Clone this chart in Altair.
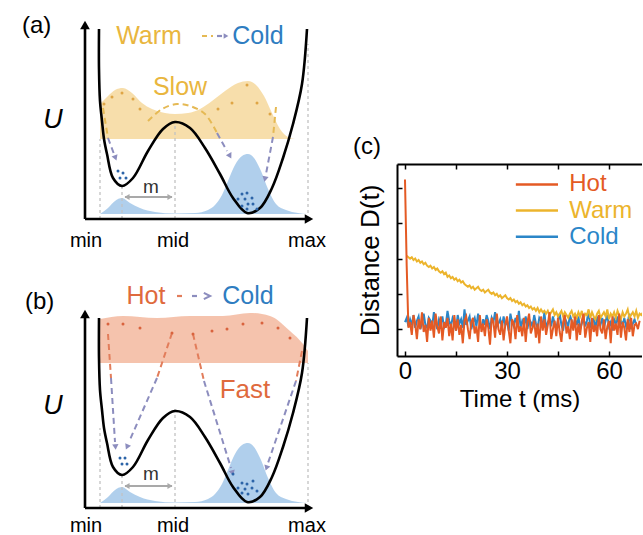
import altair as alt
import pandas as pd

FONT = "Liberation Sans"
NARROW_FONT = "Liberation Sans Narrow, Liberation Sans"

# ---------------- colours ----------------
YELLOW = "#E9B63E"
BLUE = "#2E7DC1"
ORANGE = "#DF6A3D"
YELLOW_FILL = "#F6DAA2"
SALMON_FILL = "#F4BCA4"
BLUE_FILL = "#A7CAEA"
DASH_WARM = "#E5B954"
DASH_HOT = "#E27D5B"
DASH_COOL = "#8C8DBE"
DOT_YELLOW = "#DFA545"
DOT_ORANGE = "#D9633E"
DOT_BLUE = "#2C64A8"
GUIDE = "#C2C2C2"
M_GRAY = "#A9A9A9"
HOT_C = "#E45A24"
WARM_C = "#ECB42C"
COLD_C = "#2B86C8"

# ---------------- schematic data (arbitrary drawing units) ----------------
POT_X = [-1, -1, 0, 2, 4, 7, 13, 22, 33, 48, 63, 75, 90, 105, 120, 133, 147, 160, 172, 183, 193, 202, 207]
POT_U = [190, 150, 118, 98, 80, 65, 41, 33, 41, 68, 90, 97, 91, 71, 45, 21, 6, 11, 31, 61, 95, 135, 190]

BLUE_X = [0, 8, 15, 22, 30, 40, 55, 75, 95, 108, 115, 122, 128, 135, 142, 148, 154, 161, 168, 176, 186, 198, 208]
BLUE_U = [5, 11, 18, 21, 16, 11, 7, 5.5, 6, 9, 14, 24, 38, 54, 63, 65, 61, 48, 30, 15, 9, 6, 5]
BLUE_BASE = 5

WARM_X = [0, 8, 15, 23, 32, 42, 52, 65, 75, 88, 100, 112, 125, 138, 148, 156, 164, 172, 180, 188, 195, 208]
WARM_U = [115, 123, 129, 131, 126, 116, 110, 106, 105, 106, 110, 118, 128, 136, 138, 134, 123, 106, 90, 82, 80, 80]
WARM_BASE = 80

HOT_X = [0, 23, 57, 90, 123, 150, 170, 190, 203, 208]
HOT_U = [189, 192, 190, 192, 192, 195, 192, 177, 164, 157]
HOT_BASE = 145

A_YDOT_X = [4, 12, 22, 33, 40, 118, 132, 147, 157, 170]
A_YDOT_U = [115, 122, 126, 120, 110, 110, 116, 134, 116, 105]
A_BDOT_X = [18, 23, 20, 26, 142, 147, 138, 145, 152, 148, 142, 153, 157, 147]
A_BDOT_U = [48, 46, 41, 41, 25, 26, 20, 20, 21, 15, 13, 15, 10, 10]
B_ODOT_X = [8, 23, 40, 72, 93, 112, 127, 143, 162, 178, 190]
B_ODOT_U = [184, 184, 180, 175, 174, 177, 179, 184, 185, 180, 170]
B_BDOT_X = [20, 25, 22, 27, 133, 142, 147, 153, 138, 145, 152, 157, 148, 142]
B_BDOT_U = [50, 50, 44, 44, 34, 25, 24, 27, 20, 19, 20, 17, 14, 15]

A_ARROWS = [
    ("a1", DASH_WARM, [3, 8], [111, 81]),
    ("a1g", DASH_COOL, [8, 14], [81, 65]),
    ("a2", DASH_WARM, [48, 62, 77, 90, 105, 117], [98, 110, 115, 113, 105, 86]),
    ("a2g", DASH_COOL, [117, 127], [86, 68]),
    ("a3", DASH_WARM, [176, 173], [112, 82]),
    ("a3g", DASH_COOL, [173, 166], [82, 45]),
]
A_HEAD_X = [15.5, 130, 165]
A_HEAD_U = [61, 63, 40]
A_HEAD_ANG = [339, 331, 11]

B_ARROWS = [
    ("b1", DASH_HOT, [8, 11], [174, 130]), ("b1p", DASH_COOL, [11, 15], [130, 66]),
    ("b2", DASH_HOT, [72, 57], [175, 130]), ("b2p", DASH_COOL, [57, 29], [130, 66]),
    ("b3", DASH_HOT, [93, 104], [174, 127]), ("b3p", DASH_COOL, [104, 131], [127, 40]),
    ("b4", DASH_HOT, [202, 196], [157, 127]), ("b4p", DASH_COOL, [196, 168], [127, 45]),
]
B_HEAD_X = [15.5, 27, 132.5, 166.5]
B_HEAD_U = [61, 61, 35, 40]
B_HEAD_ANG = [356, 24, 343, 19]

A_TITLE_ARROW = [("t1", DASH_WARM, [102, 113], [183, 183]), ("t2", DASH_COOL, [117, 123], [183, 183])]
B_TITLE_ARROW = [("t1", DASH_HOT, [77, 85], [212, 212]), ("t2", DASH_COOL, [92, 100], [212, 212])]

A_TEXT = [("Warm", 49, 175, YELLOW, 25), ("Cold", 158, 175, BLUE, 25),
          ("Slow", 80, 124, YELLOW, 25), ("m", 51, 26, "#333333", 19)]
B_TEXT = [("Hot", 46, 204, ORANGE, 25), ("Cold", 148, 204, BLUE, 25),
          ("Fast", 145, 110, ORANGE, 26), ("m", 51, 28, "#333333", 19)]

A_GUIDE_X = [0, 22, 75, 208]
A_GUIDE_TOP = [80, 33, 97, 175]
B_GUIDE_X = [0, 22, 75, 208]
B_GUIDE_TOP = [80, 35, 99, 145]

POS_LABELS = ["min", "mid", "max"]
POS_LABEL_X = [-14, 73, 207]

# ---------------- panel (c) data (D in hundredths, 0.5 ms sampling) ----------------
T_STEP = 0.5
HOT_D = [106, 45, 1, 5, -4, 10, 4, -7, 7, 0, 12, -2, 3, -9, 8, -1, 6, -6, 11, 2, -3, 9, -8, 5, 1, 8, -5, 4,
         -8, 10, -1, 7, -4, 3, -10, 6, 9, 0, -7, 5, 8, -3, 2, -9, 10, -2, 4, -5, 7, 1, -11, 8, 5, -6, 11,
         0, -4, 6, -8, 3, 9, -1, -10, 7, 4, -7, 10, -2, 2, -5, 8, -9, 5, 11, -3, 1, 6, -6, 4, -10, 9, -1,
         7, -4, 3, 12, -7, 0, 6, -5, 8, -2, -9, 5, 10, -3, 2, -7, 7, -1, 9, -8, 4, -4, 6, 11, -6, 1, 5,
         -9, 8, -2, 3, -5, 10, 0, -3, 7, -7, 2, 6, -10, 9, -1, 4, -4, 11, -6, 5, 1, -8, 7, -2, 8, -5, 3,
         4, 0, 6]
WARM_D = [52, 51, 50, 51, 49, 50, 48, 49, 47, 48, 46, 47, 45, 44, 45, 43, 44, 42, 43, 41, 40, 41, 39, 40,
          37, 38, 36, 37, 35, 36, 34, 35, 33, 34, 32, 31, 30, 31, 29, 30, 28, 29, 30, 28, 27, 28, 26, 27,
          28, 26, 25, 26, 24, 25, 23, 24, 22, 23, 24, 22, 21, 22, 20, 21, 19, 20, 18, 19, 17, 18, 16, 17,
          15, 16, 14, 15, 13, 15, 12, 14, 12, 13, 11, 13, 10, 12, 14, 10, 12, 9, 11, 13, 9, 12, 10, 8, 11,
          13, 9, 11, 8, 12, 9, 13, 7, 11, 10, 14, 8, 12, 9, 7, 11, 13, 8, 10, 12, 9, 14, 7, 11, 9, 12, 8,
          13, 10, 7, 12, 9, 11, 14, 8, 10, 12, 9, 13, 8, 11, 10, 12]
WARM_T0 = 0.5
COLD_D = [5, 8, 2, 7, 3, 10, 1, 6, 9, 0, 4, 11, 3, 1, 8, 6, 2, 12, 5, 0, 7, 4, 9, 1, 3, 13, 6, 2, 8, 5, -1,
          10, 4, 7, 1, 14, 3, 6, 9, 0, 5, 8, 2, 11, 4, 1, 7, 3, 10, 6, 0, 8, 5, 12, 2, 4, 7, 1, 9, 3, 6, -1,
          11, 5, 2, 8, 4, 13, 1, 6, 3, 9, 0, 7, 5, 2, 10, 4, 1, 8, 6, 3, 12, 0, 5, 7, 2, 9, 4, 1, 6, 11, 3,
          -1, 8, 5, 2, 10, 6, 1, 7, 3, 9, 0, 4, 8, 2, 6, 13, 1, 5, 7, 0, 9, 4, 3, 8, 1, 6, 10, 2, 5, -1, 7,
          4, 9, 1, 6, 3, 8, 2, 5, 11, 0, 4, 7, 3]
SERIES = ["Hot", "Warm", "Cold"]
SERIES_COLORS = [HOT_C, WARM_C, COLD_C]
T_TICKS = [0, 15, 30, 45, 60]
D_TICKS = [0, 0.25, 0.5, 0.75, 1]
# legend placement (in the panel's own time / distance units)
LEG_T_START, LEG_T_END, LEG_T_TEXT = 32.6, 45.0, 48.3
LEG_D = [1.025, 0.84, 0.655]

# ---------------- helpers for schematic panels ----------------
XS = alt.Scale(domain=[-20, 220])
YS = alt.Scale(domain=[-10, 200])


def X():
    return alt.X("x:Q", scale=XS, axis=None)


def Y():
    return alt.Y("y:Q", scale=YS, axis=None)


def area(xs, us, base, color, opacity):
    df = pd.DataFrame({"x": xs, "y": us, "base": [base] * len(xs)})
    return alt.Chart(df).mark_area(color=color, opacity=opacity, interpolate="monotone").encode(
        x=X(), y=Y(), y2="base:Q")


def dashed(segs, width=2, dash=(6, 4)):
    rows = []
    for sid, col, xs, ys in segs:
        for i, (x, y) in enumerate(zip(xs, ys)):
            rows.append({"seg": sid, "col": col, "x": x, "y": y, "i": i})
    return alt.Chart(pd.DataFrame(rows)).mark_line(
        strokeDash=list(dash), strokeWidth=width, interpolate="catmull-rom").encode(
        x=X(), y=Y(), detail="seg:N", color=alt.Color("col:N", scale=None), order="i:Q")


def heads(xs, ys, angs, col, shape="triangle-down", size=45, filled=True):
    df = pd.DataFrame({"x": xs, "y": ys, "ang": angs})
    kw = dict(shape=shape, filled=filled, size=size, color=col, opacity=1)
    if not filled:
        kw["strokeWidth"] = 2
    return alt.Chart(df).mark_point(**kw).encode(
        x=X(), y=Y(), angle=alt.Angle("ang:Q", scale=None))


def dots(xs, ys, col, size=9):
    df = pd.DataFrame({"x": xs, "y": ys})
    return alt.Chart(df).mark_circle(color=col, size=size, opacity=1).encode(x=X(), y=Y())


def texts(rows, **mk):
    df = pd.DataFrame(rows, columns=["txt", "x", "y", "col", "fs"])
    kw = dict(baseline="alphabetic", font=FONT)
    kw.update(mk)
    return alt.Chart(df).mark_text(**kw).encode(
        x=X(), y=Y(), text="txt:N", color=alt.Color("col:N", scale=None),
        size=alt.Size("fs:Q", scale=None))


def panel(top_x, top_u, top_base, top_fill, dot_x, dot_u, dot_col, bdot_x, bdot_u,
          arrows, head_x, head_u, head_ang, title_arrow, title_head, txt, guide_x, guide_top,
          letter, letter_xy, u_y, lab_y):
    layers = []
    layers.append(area(top_x, top_u, top_base, top_fill, 0.9))
    layers.append(area(BLUE_X, BLUE_U, BLUE_BASE, BLUE_FILL, 0.9))
    gdf = pd.DataFrame({"x": guide_x, "y": [0] * len(guide_x), "top": guide_top})
    layers.append(alt.Chart(gdf).mark_rule(color=GUIDE, strokeDash=[3, 3], strokeWidth=1.3).encode(
        x=X(), y=Y(), y2="top:Q"))
    adf = pd.DataFrame({"x": [-15, -15], "y": [0, 0], "x2": [-15, 205], "y2": [190, 0]})
    layers.append(alt.Chart(adf).mark_rule(color="black", strokeWidth=2.6).encode(
        x=X(), y=Y(), x2="x2:Q", y2="y2:Q"))
    layers.append(heads([-15], [194], [0], "black", shape="triangle-up", size=95))
    layers.append(heads([209], [0], [0], "black", shape="triangle-right", size=95))
    pdf = pd.DataFrame({"x": POT_X, "y": POT_U, "i": list(range(len(POT_X)))})
    layers.append(alt.Chart(pdf).mark_line(color="black", strokeWidth=2.6, interpolate="catmull-rom").encode(
        x=X(), y=Y(), order="i:Q"))
    layers.append(dashed(arrows))
    layers.append(heads(head_x, head_u, head_ang, DASH_COOL, size=40))
    layers.append(dots(dot_x, dot_u, dot_col))
    layers.append(dots(bdot_x, bdot_u, DOT_BLUE))
    mdf = pd.DataFrame({"x": [25], "y": [22], "x2": [72]})
    layers.append(alt.Chart(mdf).mark_rule(color=M_GRAY, strokeWidth=2).encode(x=X(), y=Y(), x2="x2:Q"))
    layers.append(heads([27], [22], [0], M_GRAY, shape="triangle-left", size=35))
    layers.append(heads([70], [22], [0], M_GRAY, shape="triangle-right", size=35))
    layers.append(dashed(title_arrow, width=2.2, dash=(5, 4)))
    layers.append(title_head)
    layers.append(texts(txt, align="center"))
    layers.append(texts([(letter, letter_xy[0], letter_xy[1], "black", 24)], align="left"))
    layers.append(texts([("U", -47, u_y, "black", 27)], align="center", fontStyle="italic"))
    layers.append(texts([(l, x, lab_y, "black", 20) for l, x in zip(POS_LABELS, POS_LABEL_X)],
                        align="center", font=NARROW_FONT))
    return alt.layer(*layers).properties(width=240, height=210)


panel_a = panel(WARM_X, WARM_U, WARM_BASE, YELLOW_FILL, A_YDOT_X, A_YDOT_U, DOT_YELLOW,
                A_BDOT_X, A_BDOT_U, A_ARROWS, A_HEAD_X, A_HEAD_U, A_HEAD_ANG, A_TITLE_ARROW,
                heads([126], [183], [0], DASH_COOL, shape="triangle-right", size=30),
                A_TEXT, A_GUIDE_X, A_GUIDE_TOP, "(a)", (-78, 186), 91, -28)
panel_b = panel(HOT_X, HOT_U, HOT_BASE, SALMON_FILL, B_ODOT_X, B_ODOT_U, DOT_ORANGE,
                B_BDOT_X, B_BDOT_U, B_ARROWS, B_HEAD_X, B_HEAD_U, B_HEAD_ANG, B_TITLE_ARROW,
                heads([107], [212], [0], DASH_COOL, shape="M-1,-1L1,0L-1,1", size=40, filled=False),
                B_TEXT, B_GUIDE_X, B_GUIDE_TOP, "(b)", (-75, 199), 94, -24)

# ---------------- panel (c) ----------------
rows = []
for name, vals, t0 in [("Cold", COLD_D, 0.0), ("Warm", WARM_D, WARM_T0), ("Hot", HOT_D, 0.0)]:
    for i, v in enumerate(vals):
        rows.append({"series": name, "t": t0 + i * T_STEP, "D": v / 100.0})
cdf = pd.DataFrame(rows)

TX = alt.Scale(domain=[-2.35, 69.7], nice=False, zero=False)
TY = alt.Scale(domain=[-0.19, 1.17], nice=False, zero=False)
CSCALE = alt.Scale(domain=SERIES, range=SERIES_COLORS)
Y_AXIS = alt.Axis(values=D_TICKS, labels=False, tickSize={"expr": "-5"}, tickWidth=1.5, tickColor="black",
                  domainColor="black", domainWidth=2, grid=False,
                  title="Distance D(t)", titleFontSize=26, titleFontWeight="normal", titleColor="black",
                  titlePadding=13)

lines = alt.Chart(cdf).mark_line(strokeWidth=2, clip=True).encode(
    x=alt.X("t:Q", scale=TX, axis=alt.Axis(
        orient="bottom", values=T_TICKS, labelExpr="datum.value % 30 === 0 ? datum.label : ''",
        tickSize={"expr": "-5"}, tickWidth=1.5, tickColor="black", domainColor="black", domainWidth=2,
        labelFontSize=24, labelColor="black", labelPadding=8, grid=False,
        title="Time t (ms)", titleFontSize=24, titleFontWeight="normal", titleColor="black",
        titlePadding=4)),
    y=alt.Y("D:Q", scale=TY, axis=Y_AXIS),
    color=alt.Color("series:N", scale=CSCALE, legend=None),
)
top_axis = alt.Chart(pd.DataFrame({"t": T_TICKS})).mark_point(opacity=0).encode(
    x=alt.X("t:Q", scale=TX, axis=alt.Axis(
        orient="top", values=T_TICKS, labels=False, tickSize={"expr": "-5"}, tickWidth=1.5,
        tickColor="black", domainColor="black", domainWidth=2, grid=False, title=None)))

leg_df = pd.DataFrame({"series": SERIES, "t": [LEG_T_START] * 3, "t2": [LEG_T_END] * 3,
                       "tt": [LEG_T_TEXT] * 3, "D": LEG_D})
leg_lines = alt.Chart(leg_df).mark_rule(strokeWidth=2.5).encode(
    x=alt.X("t:Q", scale=TX, axis=None), x2="t2:Q", y=alt.Y("D:Q", scale=TY, axis=Y_AXIS),
    color=alt.Color("series:N", scale=CSCALE, legend=None))
leg_text = alt.Chart(leg_df).mark_text(align="left", baseline="middle", fontSize=24, font=FONT).encode(
    x=alt.X("tt:Q", scale=TX, axis=None), y=alt.Y("D:Q", scale=TY, axis=Y_AXIS), text="series:N",
    color=alt.Color("series:N", scale=CSCALE, legend=None))
c_label = alt.Chart(pd.DataFrame({"t": [-15.3], "D": [1.24], "txt": ["(c)"]})).mark_text(
    align="left", baseline="alphabetic", fontSize=24, font=FONT, color="black").encode(
    x=alt.X("t:Q", scale=TX, axis=None), y=alt.Y("D:Q", scale=TY, axis=Y_AXIS), text="txt:N")

panel_c = alt.layer(lines, top_axis, leg_lines, leg_text, c_label).resolve_axis(x="independent").properties(
    width=245, height=192)

spacer = alt.Chart(pd.DataFrame({"v": [0]})).mark_point(opacity=0).properties(width=20, height=145)

left = alt.vconcat(panel_a, panel_b, spacing=79, bounds="flush")
right = alt.vconcat(spacer, panel_c, spacing=0, bounds="flush")
chart = alt.hconcat(left, right, spacing=26, bounds="full").properties(
    padding={"left": 22, "top": 13, "right": 0, "bottom": 0}
).configure_view(stroke=None).configure_axis(labelFont=FONT, titleFont=FONT)

chart.save("out.html", embed_options={"renderer": "svg", "actions": False})
